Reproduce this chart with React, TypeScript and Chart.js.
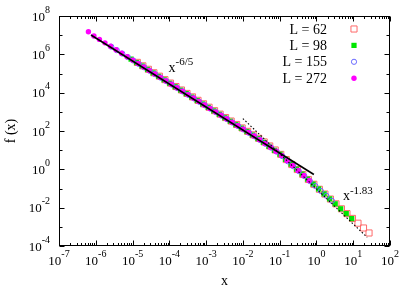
import React, { useEffect, useRef } from "react";
import { Chart, registerables } from "chart.js";
Chart.register(...registerables);

const SERIF = '"Liberation Serif", "Times New Roman", serif';

const seriesLabels = ["L = 62", "L = 98", "L = 155", "L = 272"];

// log10(x), log10(f)
const logX62 = [-4.87, -4.72, -4.57, -4.42, -4.27, -4.12, -3.97, -3.82, -3.67, -3.52, -3.37, -3.22, -3.07, -2.92, -2.77, -2.62, -2.47, -2.32, -2.17, -2.02, -1.87, -1.72, -1.57, -1.42, -1.27, -1.12, -0.97, -0.82, -0.67, -0.52, -0.37, -0.22, -0.07, 0.08, 0.23, 0.38, 0.53, 0.68, 0.83, 0.98, 1.13, 1.28, 1.43];
const logY62 = [5.58, 5.40, 5.22, 5.04, 4.86, 4.68, 4.50, 4.32, 4.14, 3.96, 3.78, 3.60, 3.42, 3.24, 3.06, 2.88, 2.70, 2.52, 2.34, 2.16, 1.98, 1.80, 1.62, 1.43, 1.22, 1.01, 0.78, 0.51, 0.25, -0.01, -0.27, -0.53, -0.78, -1.04, -1.29, -1.55, -1.80, -2.06, -2.31, -2.56, -2.81, -3.06, -3.32];

const logX98 = [-5.04, -4.89, -4.74, -4.59, -4.44, -4.29, -4.14, -3.99, -3.84, -3.69, -3.54, -3.39, -3.24, -3.09, -2.94, -2.79, -2.64, -2.49, -2.34, -2.19, -2.04, -1.89, -1.74, -1.59, -1.44, -1.29, -1.14, -0.99, -0.84, -0.69, -0.54, -0.39, -0.24, -0.09, 0.06, 0.21, 0.36, 0.51, 0.66, 0.81, 0.96];
const logY98 = [5.75, 5.57, 5.39, 5.21, 5.03, 4.85, 4.67, 4.49, 4.31, 4.13, 3.95, 3.77, 3.59, 3.41, 3.23, 3.05, 2.87, 2.69, 2.51, 2.33, 2.15, 1.97, 1.79, 1.60, 1.41, 1.20, 0.99, 0.79, 0.52, 0.27, 0.01, -0.25, -0.51, -0.77, -1.02, -1.28, -1.54, -1.80, -2.06, -2.31, -2.57];

const logX155 = [-5.58, -5.43, -5.28, -5.13, -4.98, -4.83, -4.68, -4.53, -4.38, -4.23, -4.08, -3.93, -3.78, -3.63, -3.48, -3.33, -3.18, -3.03, -2.88, -2.73, -2.58, -2.43, -2.28, -2.13, -1.98, -1.83, -1.68, -1.53, -1.38, -1.23, -1.08, -0.93, -0.78, -0.63, -0.48, -0.33, -0.18, -0.03, 0.12, 0.27, 0.42];
const logY155 = [6.40, 6.22, 6.04, 5.86, 5.68, 5.50, 5.32, 5.14, 4.96, 4.78, 4.60, 4.42, 4.24, 4.06, 3.88, 3.70, 3.52, 3.34, 3.16, 2.98, 2.80, 2.62, 2.44, 2.26, 2.08, 1.90, 1.72, 1.53, 1.33, 1.13, 0.92, 0.69, 0.42, 0.16, -0.09, -0.35, -0.61, -0.87, -1.13, -1.38, -1.64];

const logX272 = [-6.20, -6.05, -5.90, -5.75, -5.60, -5.45, -5.30, -5.15, -5.00, -4.85, -4.70, -4.55, -4.40, -4.25, -4.10, -3.95, -3.80, -3.65, -3.50, -3.35, -3.20, -3.05, -2.90, -2.75, -2.60, -2.45, -2.30, -2.15, -2.00, -1.85, -1.70, -1.55, -1.40, -1.25, -1.10, -0.95, -0.80, -0.65, -0.50, -0.35, -0.20];
const logY272 = [7.18, 6.96, 6.78, 6.60, 6.42, 6.24, 6.06, 5.88, 5.70, 5.52, 5.34, 5.16, 4.98, 4.80, 4.62, 4.44, 4.26, 4.08, 3.90, 3.72, 3.54, 3.36, 3.18, 3.00, 2.82, 2.64, 2.46, 2.28, 2.10, 1.92, 1.74, 1.55, 1.35, 1.15, 0.94, 0.73, 0.46, 0.20, -0.06, -0.32, -0.58];

// guide lines x^{-6/5} and x^{-1.83}
const fitLogX = [-6.13, -0.07];
const fitLogY = [7.01, -0.27];
const tailLogX = [-2.0, 1.38];
const tailLogY = [2.65, -3.55];

const xTickExps = [-7, -6, -5, -4, -3, -2, -1, 0, 1, 2];
const yTickExps = [-4, -2, 0, 2, 4, 6, 8];
const yMinorExps = [-3, -1, 1, 3, 5, 7];

const toPts = (lx: number[], ly: number[]) => lx.map((u, i) => ({ x: Math.pow(10, u), y: Math.pow(10, ly[i]) }));

function drawPow(ctx: CanvasRenderingContext2D, base: string, exp: string, x: number, y: number, align: string, bs: number, ss: number, rise: number) {
  ctx.font = `${bs}px ${SERIF}`;
  const wb = ctx.measureText(base).width;
  ctx.font = `${ss}px ${SERIF}`;
  const ws = ctx.measureText(exp).width;
  const x0 = align === "center" ? x - (wb + ws) / 2 : align === "right" ? x - wb - ws : x;
  ctx.textAlign = "left";
  ctx.textBaseline = "alphabetic";
  ctx.fillStyle = "#000";
  ctx.font = `${bs}px ${SERIF}`;
  ctx.fillText(base, x0, y);
  ctx.font = `${ss}px ${SERIF}`;
  ctx.fillText(exp, x0 + wb, y - rise);
}

const framePlugin = {
  id: "gnuFrame",
  afterDatasetsDraw(chart: any) {
    const ctx: CanvasRenderingContext2D = chart.ctx;
    const xs = chart.scales.x;
    const ys = chart.scales.y;
    const { left, right, top, bottom } = chart.chartArea;
    ctx.save();
    ctx.strokeStyle = "#000";
    ctx.lineWidth = 1;
    const L = Math.round(left) + 0.5, R = Math.round(right) - 0.5, T = Math.round(top) + 0.5, B = Math.round(bottom) - 0.5;
    ctx.strokeRect(L, T, R - L, B - T);
    ctx.beginPath();
    for (let e = -7; e <= 2; e++) {
      const px = Math.round(xs.getPixelForValue(Math.pow(10, e))) + 0.5;
      ctx.moveTo(px, B); ctx.lineTo(px, B - 5);
      ctx.moveTo(px, T); ctx.lineTo(px, T + 5);
      if (e < 2) {
        for (let m = 2; m <= 9; m++) {
          const p = Math.round(xs.getPixelForValue(m * Math.pow(10, e))) + 0.5;
          ctx.moveTo(p, B); ctx.lineTo(p, B - 2.5);
          ctx.moveTo(p, T); ctx.lineTo(p, T + 2.5);
        }
      }
    }
    yTickExps.forEach((e) => {
      const py = Math.round(ys.getPixelForValue(Math.pow(10, e))) + 0.5;
      ctx.moveTo(L, py); ctx.lineTo(L + 5, py);
      ctx.moveTo(R, py); ctx.lineTo(R - 5, py);
    });
    yMinorExps.forEach((e) => {
      const py = Math.round(ys.getPixelForValue(Math.pow(10, e))) + 0.5;
      ctx.moveTo(L, py); ctx.lineTo(L + 3, py);
      ctx.moveTo(R, py); ctx.lineTo(R - 3, py);
    });
    ctx.stroke();

    xTickExps.forEach((e) => {
      const px = xs.getPixelForValue(Math.pow(10, e));
      drawPow(ctx, "10", String(e), px, bottom + 19, "center", 13, 10, 8);
    });
    yTickExps.forEach((e) => {
      const py = ys.getPixelForValue(Math.pow(10, e));
      drawPow(ctx, "10", String(e), left - 9, py + 4.5, "right", 13, 10, 8);
    });

    ctx.fillStyle = "#000";
    ctx.font = `14px ${SERIF}`;
    ctx.textAlign = "center";
    ctx.textBaseline = "alphabetic";
    ctx.fillText("x", (left + right) / 2, bottom + 39);
    ctx.save();
    ctx.translate(15, (top + bottom) / 2);
    ctx.rotate(-Math.PI / 2);
    ctx.fillText("f (x)", 0, 0);
    ctx.restore();

    drawPow(ctx, "x", "-6/5", xs.getPixelForValue(Math.pow(10, -4.02)), ys.getPixelForValue(Math.pow(10, 5.1)), "left", 14, 11, 7);
    drawPow(ctx, "x", "-1.83", xs.getPixelForValue(Math.pow(10, 0.72)), ys.getPixelForValue(Math.pow(10, -1.6)), "left", 14, 11, 6);

    const dsIdx = [3, 2, 1, 0];
    seriesLabels.forEach((lab, i) => {
      const cy = top + 13 + i * 16.4;
      ctx.fillStyle = "#000";
      ctx.font = `14px ${SERIF}`;
      ctx.textAlign = "right";
      ctx.fillText(lab, 327, cy + 4.5);
      const ds = chart.data.datasets[dsIdx[i]];
      ctx.save();
      ctx.lineWidth = ds.borderWidth;
      ctx.strokeStyle = ds.borderColor;
      ctx.fillStyle = ds.backgroundColor;
      const r = ds.pointRadius;
      ctx.beginPath();
      if (ds.pointStyle === "rect") {
        const s = Math.SQRT1_2 * r;
        ctx.rect(354 - s, cy - s, 2 * s, 2 * s);
      } else {
        ctx.arc(354, cy, r, 0, Math.PI * 2);
      }
      ctx.fill();
      if (ds.borderWidth > 0) ctx.stroke();
      ctx.restore();
    });
    ctx.restore();
  },
};

export default function App() {
  const ref = useRef<HTMLCanvasElement | null>(null);
  useEffect(() => {
    if (!ref.current) return;
    const chart = new Chart(ref.current, {
      type: "scatter",
      data: {
        datasets: [
          { label: "L = 272", data: toPts(logX272, logY272), pointStyle: "circle", pointRadius: 2.7, borderWidth: 0, borderColor: "#ff00ff", backgroundColor: "#ff00ff", order: 0 },
          { label: "L = 155", data: toPts(logX155, logY155), pointStyle: "circle", pointRadius: 2.6, borderWidth: 1, borderColor: "#6a6aff", backgroundColor: "rgba(0,0,0,0)", order: 1 },
          { label: "L = 98", data: toPts(logX98, logY98), pointStyle: "rect", pointRadius: 3.7, borderWidth: 0, borderColor: "#00e600", backgroundColor: "#00e600", order: 2 },
          { label: "L = 62", data: toPts(logX62, logY62), pointStyle: "rect", pointRadius: 4.3, borderWidth: 1, borderColor: "#ff6a6a", backgroundColor: "rgba(0,0,0,0)", order: 3 },
          { label: "fit", data: toPts(fitLogX, fitLogY), showLine: true, pointRadius: 0, borderWidth: 1.6, borderColor: "#000", order: -2 },
          { label: "tail", data: toPts(tailLogX, tailLogY), showLine: true, pointRadius: 0, borderWidth: 1.1, borderDash: [1.5, 2], borderColor: "#000", order: -1 },
        ],
      } as any,
      options: {
        responsive: false,
        animation: false,
        events: [],
        layout: { padding: { left: 59, top: 16, right: 25, bottom: 45 } },
        plugins: { legend: { display: false }, tooltip: { enabled: false } },
        scales: {
          x: { type: "logarithmic", min: 1e-7, max: 1e2, display: false },
          y: { type: "logarithmic", min: 1e-4, max: 1e8, display: false },
        },
      } as any,
      plugins: [framePlugin],
    });
    return () => chart.destroy();
  }, []);
  return (
    <canvas ref={ref} width={415} height={291} style={{ position: "fixed", left: 0, top: 0, width: 415, height: 291, display: "block", background: "#fff" }} />
  );
}
